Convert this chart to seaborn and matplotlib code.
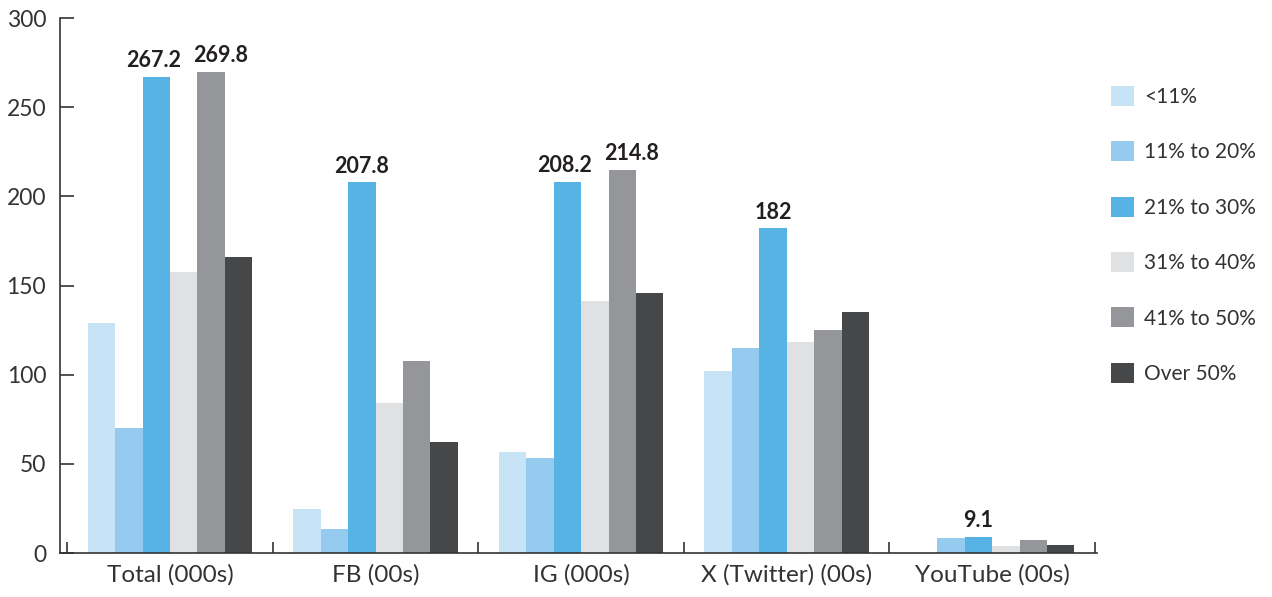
import matplotlib
matplotlib.use("Agg")
import matplotlib.pyplot as plt
from matplotlib.patches import Patch
import seaborn as sns
import pandas as pd

# Data
platforms = ["Total (000s)", "FB (00s)", "IG (000s)", "X (Twitter) (00s)", "YouTube (00s)"]
bands = ["<11%", "11% to 20%", "21% to 30%", "31% to 40%", "41% to 50%", "Over 50%"]

under_11 = [128.8, 24.5, 56.5, 102.3, 0.0]
from_11_to_20 = [70.0, 13.4, 53.1, 114.7, 8.2]
from_21_to_30 = [267.2, 207.8, 208.2, 182.0, 9.1]
from_31_to_40 = [157.7, 84.0, 141.5, 118.5, 3.9]
from_41_to_50 = [269.8, 107.9, 214.8, 125.3, 7.1]
over_50 = [166.2, 62.0, 146.0, 135.4, 4.6]

# which bars carry a value label: (band, platform)
labelled = [
    ("21% to 30%", "Total (000s)"), ("41% to 50%", "Total (000s)"),
    ("21% to 30%", "FB (00s)"),
    ("21% to 30%", "IG (000s)"), ("41% to 50%", "IG (000s)"),
    ("21% to 30%", "X (Twitter) (00s)"),
    ("21% to 30%", "YouTube (00s)"),
]

colors = ["#c6e4f6", "#94cbee", "#56b3e4", "#e0e1e3", "#959699", "#464749"]
text_col = "#333333"

series = [under_11, from_11_to_20, from_21_to_30, from_31_to_40, from_41_to_50, over_50]
rows = []
for band, vals in zip(bands, series):
    for p, v in zip(platforms, vals):
        rows.append({"platform": p, "band": band, "value": v})
df = pd.DataFrame(rows)

sns.set_theme(style="white")
plt.rcParams["font.family"] = ["Lato", "DejaVu Sans"]

fig = plt.figure(figsize=(12.72, 5.97), dpi=100)
ax = fig.add_axes([0.0472, 0.0737, 0.8153, 0.8961])

sns.barplot(data=df, x="platform", y="value", hue="band", order=platforms,
            hue_order=bands, palette=colors, saturation=1, width=0.8,
            errorbar=None, legend=False, linewidth=0, ax=ax)

for band, cont in zip(bands, ax.containers):
    labs = []
    for p, v in zip(platforms, series[bands.index(band)]):
        if (band, p) in labelled:
            labs.append(f"{v:g}")
        else:
            labs.append("")
    texts = ax.bar_label(cont, labels=labs, padding=4, fontsize=15.5,
                         fontweight="bold", color="#231f20")
    # nudge labels apart where two neighbouring bars are both labelled
    for p, t in zip(platforms, texts):
        if band == "41% to 50%" and (band, p) in labelled:
            t.xyann = (7, 4)
        if band == "21% to 30%" and ("41% to 50%", p) in labelled:
            t.xyann = (-2, 4)

ax.set_ylim(0, 300)
ax.set_xlim(-0.535, len(platforms) - 0.49)
ax.set_yticks(range(0, 301, 50))
ax.set_xlabel("")
ax.set_ylabel("")

for s in ["top", "right"]:
    ax.spines[s].set_visible(False)
for s in ["left", "bottom"]:
    ax.spines[s].set_color(text_col)
    ax.spines[s].set_linewidth(1.2)

ax.tick_params(axis="y", direction="in", length=10, width=1.2, color=text_col,
               labelsize=16.5, labelcolor=text_col, pad=10, left=True)
ax.tick_params(axis="x", which="major", length=0, labelsize=17.5,
               labelcolor=text_col, pad=8)
ax.set_xticks([i - 0.5 for i in range(len(platforms) + 1)], minor=True)
ax.tick_params(axis="x", which="minor", direction="in", length=8, width=1.2,
               color=text_col, bottom=True)

handles = [Patch(facecolor=c, edgecolor="none") for c in colors]
fig.legend(handles, bands, loc="upper left", bbox_to_anchor=(0.8652, 0.874),
           frameon=False, fontsize=15, handlelength=1.1, handleheight=1.1,
           handletextpad=0.5, labelspacing=1.65, borderpad=0,
           labelcolor=text_col)

fig.savefig("out.png", dpi=100)
